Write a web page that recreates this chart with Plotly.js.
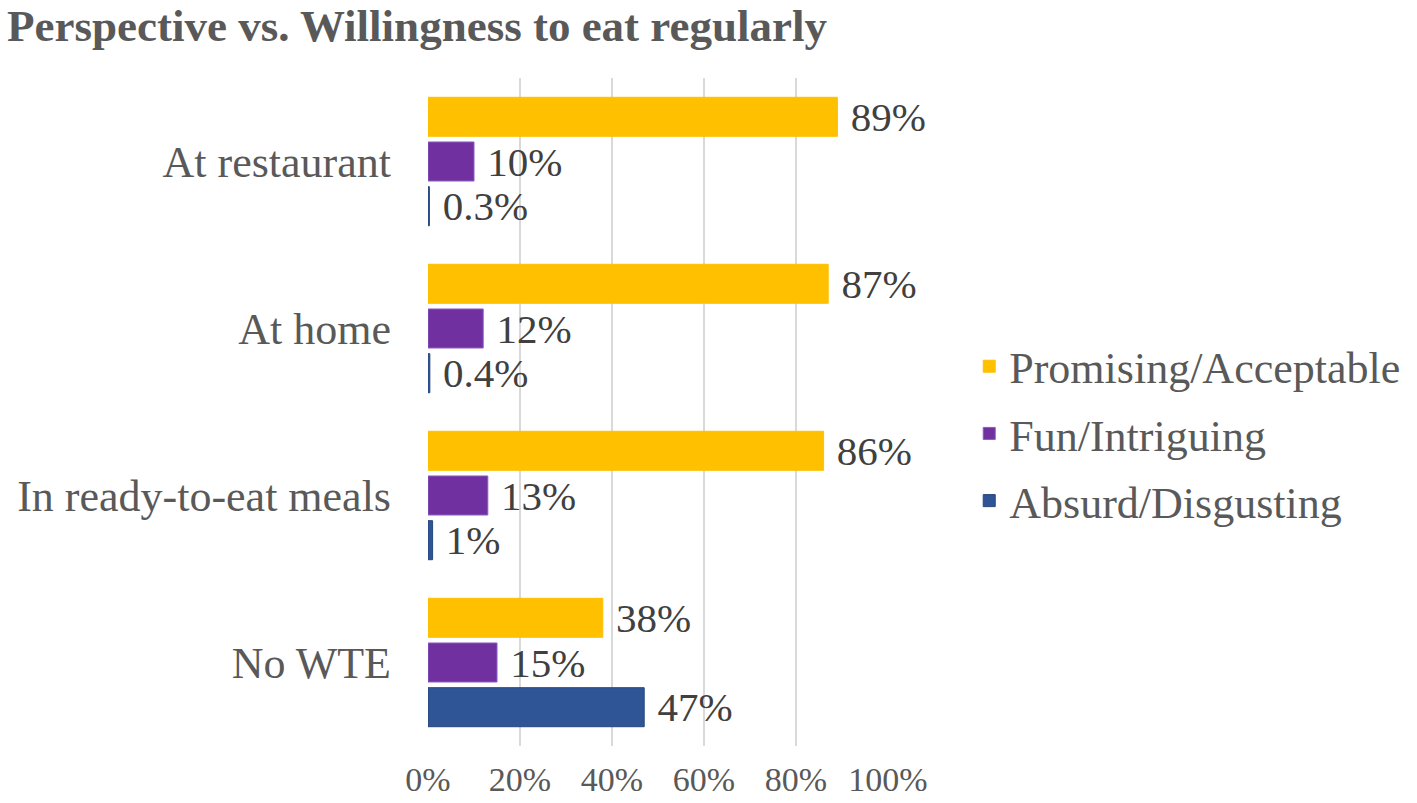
<!DOCTYPE html>
<html>
<head>
<meta charset="utf-8">
<script src="https://cdn.plot.ly/plotly-3.0.1.min.js"></script>
<style>
  html, body { margin: 0; padding: 0; background: #fff; }
  #graph { width: 1417px; height: 803px; }
</style>
</head>
<body>
<div id="graph"></div>
<script>
var categories = ['At restaurant', 'At home', 'In ready-to-eat meals', 'No WTE'];
var promising = [89, 87, 86, 38];
var fun = [10, 12, 13, 15];
var absurd = [0.3, 0.4, 1, 47];
var xTicks = [0, 20, 40, 60, 80, 100];

var serif = 'Liberation Serif, Times New Roman, serif';

function pct(arr) {
  return arr.map(function (v) { return '\u00a0' + v + '%'; });
}

function barTrace(name, values, color, lineColor) {
  return {
    type: 'bar',
    orientation: 'h',
    name: name,
    y: categories,
    x: values,
    text: pct(values),
    textposition: 'outside',
    constraintext: 'none',
    cliponaxis: false,
    textfont: { family: serif, size: 41, color: '#404040' },
    marker: { color: color, line: { color: lineColor, width: 1 } },
    legendgroup: name,
    hoverinfo: 'skip'
  };
}

var data = [
  barTrace('Promising/Acceptable', promising, '#FFC000', '#FFC000'),
  barTrace('Fun/Intriguing', fun, '#7030A0', '#8B5CC0'),
  barTrace('Absurd/Disgusting', absurd, '#2F5597', '#26467D')
];

var layout = {
  width: 1417,
  height: 803,
  margin: { l: 428, r: 529, t: 78, b: 57 },
  paper_bgcolor: '#ffffff',
  plot_bgcolor: '#ffffff',
  font: { family: serif, size: 44, color: '#595959' },
  title: {
    text: '<b>Perspective vs. Willingness to eat regularly</b>',
    font: { family: serif, size: 45, color: '#595959' },
    xref: 'container', x: 0.005, xanchor: 'left',
    yref: 'container', y: 0.968, yanchor: 'middle'
  },
  barmode: 'group',
  bargap: 0.197,
  bargroupgap: 0.127,
  xaxis: {
    range: [0, 100],
    tickvals: xTicks,
    ticktext: xTicks.map(function (v) { return v + '%'; }),
    tickangle: 0,
    showgrid: true,
    gridcolor: '#d9d9d9',
    gridwidth: 2,
    zeroline: false,
    showline: false,
    ticks: '',
    ticklabelstandoff: 10,
    tickfont: { family: serif, size: 34, color: '#595959' },
    automargin: false,
    fixedrange: true
  },
  yaxis: {
    type: 'category',
    autorange: 'reversed',
    showgrid: false,
    zeroline: false,
    showline: false,
    ticks: '',
    ticklabelstandoff: 36,
    tickfont: { family: serif, size: 44, color: '#595959' },
    automargin: false,
    fixedrange: true
  },
  showlegend: true,
  legend: {
    xref: 'container', x: 0.684, xanchor: 'left',
    yref: 'container', y: 0.46, yanchor: 'middle',
    font: { family: serif, size: 44, color: '#595959' },
    traceorder: 'grouped',
    tracegroupgap: 7,
    itemwidth: 30,
    bgcolor: 'rgba(0,0,0,0)'
  }
};

Plotly.newPlot('graph', data, layout, { staticPlot: true, displayModeBar: false });
</script>
</body>
</html>
